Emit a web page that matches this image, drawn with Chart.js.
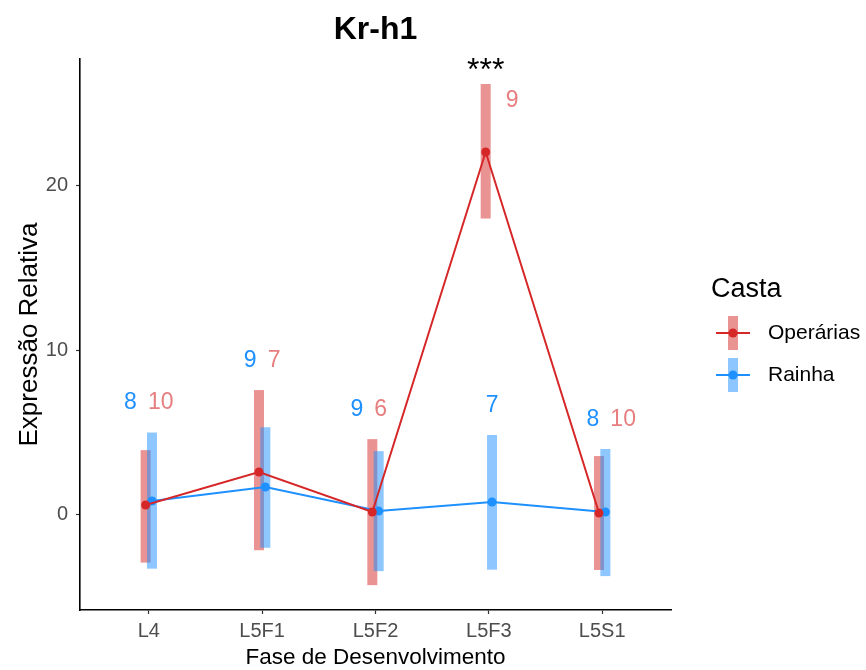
<!DOCTYPE html>
<html>
<head>
<meta charset="utf-8">
<script src="https://cdn.jsdelivr.net/npm/chart.js@4.4.1/dist/chart.umd.min.js"></script>
<style>
  html, body { margin: 0; padding: 0; background: #ffffff; }
  #wrap { width: 866px; height: 670px; }
</style>
</head>
<body>
<div id="wrap"><canvas id="c" width="866" height="670"></canvas></div>
<script>
// ---- data ----
const categories = ["L4", "L5F1", "L5F2", "L5F3", "L5S1"];
const yTicks = [0, 10, 20];

const operMean = [0.6, 2.6, 0.17, 22.04, 0.11];
const operLow  = [-2.9, -2.15, -4.27, 18.0, -3.35];
const operHigh = [3.93, 7.58, 4.6, 26.17, 3.57];

const rainhaMean = [0.84, 1.69, 0.23, 0.78, 0.17];
const rainhaLow  = [-3.27, -2.0, -3.42, -3.33, -3.72];
const rainhaHigh = [5.0, 5.32, 3.87, 4.85, 4.0];

const nOper   = ["10", "7", "6", "9", "10"];
const nRainha = ["8", "9", "9", "7", "8"];
const signif  = ["", "", "", "***", ""];

const seriesNames = ["Operárias", "Rainha"];

// ---- layout / styles (not data) ----
const labelShift = [0, 0, -0.06, 0, 0.08];   // horizontal nudge of the n-labels, data units
const RED = "rgb(214,39,40)";
const RED_BAR = "rgba(214,39,40,0.5)";
const RED_TXT = "rgba(214,39,40,0.6)";
const BLUE = "rgb(30,144,255)";
const BLUE_BAR = "rgba(30,144,255,0.5)";
const FONT = "'Liberation Sans', Arial, sans-serif";
const DODGE = 0.028;

function pts(means, off) {
  return means.map((v, i) => ({ x: i + 1 + off, y: v }));
}

const errPlugin = {
  id: "errbars",
  beforeDatasetsDraw(chart) {
    const { ctx, scales: { x, y } } = chart;
    const w = 10;
    ctx.save();
    const groups = [
      { lo: operLow, hi: operHigh, off: -DODGE, col: RED_BAR },
      { lo: rainhaLow, hi: rainhaHigh, off: DODGE, col: BLUE_BAR }
    ];
    groups.forEach(g => {
      ctx.fillStyle = g.col;
      g.lo.forEach((lo, i) => {
        const px = x.getPixelForValue(i + 1 + g.off);
        const yt = y.getPixelForValue(g.hi[i]);
        const yb = y.getPixelForValue(lo);
        ctx.fillRect(px - w / 2, yt, w, yb - yt);
      });
    });
    ctx.restore();
  },
  afterDatasetsDraw(chart) {
    const { ctx, scales: { x, y } } = chart;
    ctx.save();
    ctx.textBaseline = "middle";
    categories.forEach((c, i) => {
      const tick = i + 1;
      ctx.font = "23px " + FONT;
      if (operHigh[i] - rainhaHigh[i] > 10) {
        ctx.textAlign = "center";
        ctx.fillStyle = BLUE;
        ctx.fillText(nRainha[i], x.getPixelForValue(tick + DODGE), y.getPixelForValue(rainhaHigh[i] + 1.8));
        ctx.fillStyle = RED_TXT;
        ctx.fillText(nOper[i], x.getPixelForValue(tick + 0.205), y.getPixelForValue(operHigh[i] - 1.0));
      } else {
        const top = Math.max(operHigh[i], rainhaHigh[i]) + 1.8;
        const gap = 11;
        const wb = ctx.measureText(nRainha[i]).width;
        const wr = ctx.measureText(nOper[i]).width;
        const W = wb + gap + wr;
        const left = x.getPixelForValue(tick + labelShift[i]) - W / 2;
        const py = y.getPixelForValue(top);
        ctx.textAlign = "left";
        ctx.fillStyle = BLUE;
        ctx.fillText(nRainha[i], left, py);
        ctx.fillStyle = RED_TXT;
        ctx.fillText(nOper[i], left + wb + gap, py);
      }
      if (signif[i]) {
        ctx.font = "32px " + FONT;
        ctx.textAlign = "center";
        ctx.fillStyle = "#000000";
        ctx.fillText(signif[i], x.getPixelForValue(tick - DODGE), y.getPixelForValue(operHigh[i] + 0.75) - 1);
      }
    });
    ctx.restore();
  },
  afterDraw(chart) {
    const { ctx } = chart;
    ctx.save();
    ctx.fillStyle = "#000000";
    ctx.font = "bold 32px " + FONT;
    ctx.textAlign = "center";
    ctx.textBaseline = "middle";
    const area = chart.chartArea;
    ctx.fillText("Kr-h1", (area.left + area.right) / 2, 30);
    // legend
    ctx.textAlign = "left";
    ctx.font = "27px " + FONT;
    ctx.fillText("Casta", 711, 290);
    const items = [
      { name: seriesNames[0], line: RED, bar: RED_BAR, y: 333 },
      { name: seriesNames[1], line: BLUE, bar: BLUE_BAR, y: 375 }
    ];
    items.forEach(it => {
      const cx = 733;
      ctx.fillStyle = it.bar;
      ctx.fillRect(cx - 5, it.y - 17, 10, 34);
      ctx.strokeStyle = it.line;
      ctx.lineWidth = 2;
      ctx.beginPath();
      ctx.moveTo(716, it.y);
      ctx.lineTo(750, it.y);
      ctx.stroke();
      ctx.fillStyle = it.line;
      ctx.beginPath();
      ctx.arc(cx, it.y, 4.5, 0, Math.PI * 2);
      ctx.fill();
      ctx.fillStyle = "#000000";
      ctx.font = "21px " + FONT;
      ctx.fillText(it.name, 768, it.y);
    });
    ctx.restore();
  }
};

new Chart(document.getElementById("c"), {
  type: "line",
  data: {
    datasets: [
      {
        label: seriesNames[0],
        data: pts(operMean, -DODGE),
        borderColor: RED, backgroundColor: RED,
        borderWidth: 2, pointRadius: 4.5, pointHoverRadius: 4.5,
        pointBorderWidth: 0, tension: 0
      },
      {
        label: seriesNames[1],
        data: pts(rainhaMean, DODGE),
        borderColor: BLUE, backgroundColor: BLUE,
        borderWidth: 2, pointRadius: 4.5, pointHoverRadius: 4.5,
        pointBorderWidth: 0, tension: 0
      }
    ]
  },
  plugins: [errPlugin],
  options: {
    responsive: false,
    animation: false,
    events: [],
    layout: { padding: { left: 0, top: 59, right: 195, bottom: 0 } },
    plugins: { legend: { display: false }, tooltip: { enabled: false }, title: { display: false } },
    scales: {
      x: {
        type: "linear",
        min: 0.393, max: 5.607,
        afterBuildTicks(s) { s.ticks = categories.map((c, i) => ({ value: i + 1 })); },
        afterFit(s) { s.height = 60; },
        ticks: {
          callback: (v) => categories[Math.round(v) - 1] || "",
          color: "#4d4d4d", font: { family: FONT, size: 20 }, padding: 5,
          maxRotation: 0, autoSkip: false
        },
        grid: { drawOnChartArea: false, drawTicks: true, tickLength: 4, color: "#333333", tickWidth: 1.2 },
        border: { display: true, color: "#000000", width: 1.6 },
        title: { display: true, text: "Fase de Desenvolvimento", color: "#000000", font: { family: FONT, size: 22.5 }, padding: { top: 0, bottom: -1 } }
      },
      y: {
        type: "linear",
        min: -5.78, max: 27.69,
        afterBuildTicks(s) { s.ticks = yTicks.map(v => ({ value: v })); },
        afterFit(s) { s.width = 80; },
        ticks: { color: "#4d4d4d", font: { family: FONT, size: 20 }, padding: 8 },
        grid: { drawOnChartArea: false, drawTicks: true, tickLength: 4, color: "#333333", tickWidth: 1.2 },
        border: { display: true, color: "#000000", width: 1.6 },
        title: { display: true, text: "Expressão Relativa", color: "#000000", font: { family: FONT, size: 26 }, padding: { top: 14, bottom: 0 } }
      }
    }
  }
});
</script>
</body>
</html>
